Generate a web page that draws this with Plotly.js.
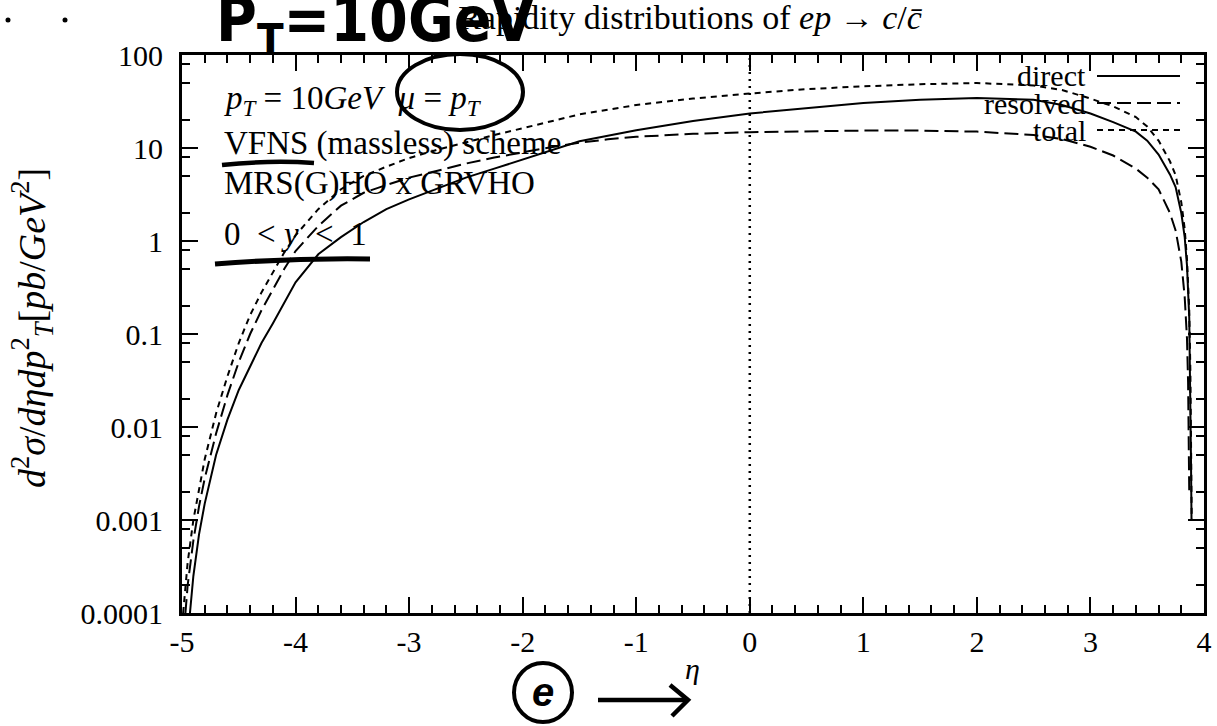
<!DOCTYPE html>
<html>
<head>
<meta charset="utf-8">
<script src="https://cdn.plot.ly/plotly-3.0.1.min.js"></script>
<style>
  html, body { margin: 0; padding: 0; background: #ffffff; }
  #chart { width: 1217px; height: 726px; }
</style>
</head>
<body>
<div id="chart"></div>
<script>
// Rapidity distributions d2sigma/deta dpT2 for ep -> c/cbar at pT = 10 GeV

// direct photon contribution
const etaDirect = [-4.93, -4.9, -4.85, -4.8, -4.7, -4.6, -4.5, -4.4, -4.3, -4.2, -4.1, -4.0,
  -3.8, -3.6, -3.4, -3.2, -3.0, -2.75, -2.5, -2.25, -2.0, -1.5, -1.0, -0.5, 0, 0.5, 1.0, 1.5,
  2.0, 2.5, 2.75, 3.0, 3.2, 3.4, 3.5, 3.6, 3.7, 3.75, 3.8, 3.83, 3.85, 3.87, 3.88, 3.885, 3.89];
const direct = [1e-4, 2.5e-4, 7e-4, 1.5e-3, 5e-3, 0.012, 0.025, 0.045, 0.08, 0.13, 0.22, 0.36,
  0.72, 1.1, 1.6, 2.2, 2.8, 3.7, 4.8, 6.0, 7.5, 11.8, 15.5, 19.5, 23.5, 27, 30.5, 33,
  34.5, 33, 29, 23.5, 19, 15, 12, 8.5, 5.2, 3.8, 2.0, 1.1, 0.55, 0.15, 0.03, 0.005, 0.001];

// resolved photon contribution
const etaResolved = [-4.97, -4.95, -4.9, -4.85, -4.8, -4.7, -4.6, -4.5, -4.4, -4.3, -4.2, -4.1, -4.0,
  -3.8, -3.6, -3.4, -3.2, -3.0, -2.75, -2.5, -2.25, -2.0, -1.75, -1.5, -1.25, -1.0, -0.5, 0, 0.5, 1.0, 1.5,
  2.0, 2.5, 2.75, 3.0, 3.2, 3.4, 3.5, 3.6, 3.7, 3.75, 3.8, 3.83, 3.85, 3.86, 3.865, 3.87];
const resolved = [1e-4, 2e-4, 6e-4, 1.4e-3, 2.8e-3, 8.5e-3, 0.022, 0.05, 0.1, 0.18, 0.3, 0.5, 0.78,
  1.45, 2.4, 3.3, 4.0, 4.8, 5.7, 6.8, 7.9, 9.0, 10.2, 11.4, 12.4, 13.2, 14.2, 14.8, 15.2, 15.4, 15.4,
  15, 13.8, 12.5, 10.3, 8.3, 6.0, 4.8, 3.6, 2.0, 1.3, 0.6, 0.25, 0.09, 0.03, 0.01, 0.002];

// sum of both
const etaTotal = [-4.99, -4.95, -4.9, -4.85, -4.8, -4.7, -4.6, -4.5, -4.4, -4.3, -4.2, -4.1, -4.0,
  -3.8, -3.6, -3.4, -3.2, -3.0, -2.75, -2.5, -2.25, -2.0, -1.5, -1.0, -0.5, 0, 0.5, 1.0, 1.5,
  2.0, 2.5, 2.75, 3.0, 3.2, 3.4, 3.5, 3.6, 3.7, 3.75, 3.8, 3.83, 3.85, 3.87, 3.88, 3.885, 3.892];
const total = [1e-4, 3.5e-4, 1e-3, 2.2e-3, 4.5e-3, 0.014, 0.035, 0.08, 0.16, 0.28, 0.45, 0.75, 1.15,
  2.2, 3.6, 5.0, 6.3, 7.8, 9.6, 11.6, 13.8, 16.3, 23, 29, 34, 38.5, 43, 46, 48.5,
  50, 47, 42, 34, 28, 21.5, 17, 12, 7.2, 5.1, 2.6, 1.35, 0.64, 0.18, 0.04, 0.008, 0.001];

// axis ticks
const xTickVals = [-5, -4, -3, -2, -1, 0, 1, 2, 3, 4];
const xTickText = ['-5', '-4', '-3', '-2', '-1', '0', '1', '2', '3', '4'];
const yTickVals = [1e-4, 1e-3, 1e-2, 1e-1, 1, 10, 100];
const yTickText = ['0.0001', '0.001', '0.01', '0.1', '1', '10', '100'];
const yMinorMantissas = [2, 5, 8];

const yMinorVals = [];
yTickVals.slice(0, -1).forEach(d => yMinorMantissas.forEach(m => yMinorVals.push(m * d)));

// page geometry (pixels) and helpers to place overlays in paper units
const PAGE_W = 1217, PAGE_H = 726;
const L = 182, R = 1204, T = 55, B = 613;
const fx = px => (px - L) / (R - L);
const fy = py => (B - py) / (B - T);

const SERIF = 'Liberation Serif, Times New Roman, serif';
const INK = '#000000';
const DASH_RESOLVED = '14px,6px';
const DASH_TOTAL = '6px,5px';

const curve = (x, y, dash) => ({
  x: x, y: y, type: 'scatter', mode: 'lines',
  line: { color: INK, width: 2, dash: dash },
  showlegend: false, hoverinfo: 'skip'
});

const traces = [
  curve(etaDirect, direct, 'solid'),
  curve(etaResolved, resolved, DASH_RESOLVED),
  curve(etaTotal, total, DASH_TOTAL)
];

const axisCommon = {
  ticks: 'inside', ticklen: 16, tickwidth: 2, tickcolor: INK,
  showline: true, linewidth: 3, linecolor: INK, mirror: 'allticks',
  showgrid: false, zeroline: false, automargin: false, fixedrange: true,
  tickfont: { family: SERIF, size: 30, color: INK }
};

const layout = {
  width: PAGE_W, height: PAGE_H,
  margin: { l: L, r: PAGE_W - R, t: T, b: PAGE_H - B, pad: 0 },
  paper_bgcolor: '#ffffff', plot_bgcolor: '#ffffff',
  font: { family: SERIF, size: 30, color: INK },
  showlegend: false,
  title: {
    text: 'Rapidity distributions of <i>ep</i> \u2192 <i>c</i>/<i>c\u0304</i>',
    font: { family: SERIF, size: 34, color: INK },
    xref: 'paper', x: fx(690), xanchor: 'center',
    yref: 'container', y: 1 - 17 / PAGE_H, yanchor: 'middle'
  },
  xaxis: Object.assign({}, axisCommon, {
    range: [-5, 4], tickmode: 'array', tickvals: xTickVals, ticktext: xTickText,
    ticklabelstandoff: 0,
    minor: { dtick: 0.2, tick0: -5, ticks: 'inside', ticklen: 8, tickwidth: 2, tickcolor: INK, showgrid: false }
  }),
  yaxis: Object.assign({}, axisCommon, {
    type: 'log', range: [-4, 2], tickmode: 'array', tickvals: yTickVals, ticktext: yTickText,
    ticklabelstandoff: 10,
    minor: { tickmode: 'array', tickvals: yMinorVals, ticks: 'inside', ticklen: 8, tickwidth: 2, tickcolor: INK, showgrid: false }
  }),
  shapes: [],
  annotations: []
};

// vertical dotted reference line at eta = 0
layout.shapes.push({
  type: 'line', xref: 'x', yref: 'paper', x0: 0, x1: 0, y0: 0, y1: 1,
  line: { color: INK, width: 2.5, dash: '2px,5px' }, layer: 'above'
});

// key: label text on the left, line sample on the right
const keyRows = [
  { label: 'direct', dash: 'solid', y: 76 },
  { label: 'resolved', dash: DASH_RESOLVED, y: 103 },
  { label: 'total', dash: DASH_TOTAL, y: 130 }
];
keyRows.forEach(k => {
  layout.annotations.push({
    xref: 'paper', yref: 'paper', x: fx(1088), y: fy(k.y), xanchor: 'right', yanchor: 'middle',
    text: k.label, showarrow: false, font: { family: SERIF, size: 30, color: INK }
  });
  layout.shapes.push({
    type: 'line', xref: 'paper', yref: 'paper', x0: fx(1097), x1: fx(1180), y0: fy(k.y), y1: fy(k.y),
    line: { color: INK, width: 2, dash: k.dash }
  });
});

// parameter block in the upper left
const infoLines = [
  { text: '<i>p<sub>T</sub></i> = 10<i>GeV</i>\u00a0\u00a0<i>\u03bc</i> = <i>p<sub>T</sub></i>', y: 100 },
  { text: 'VFNS (massless) scheme', y: 143 },
  { text: 'MRS(G)HO x GRVHO', y: 183 },
  { text: '0 \u00a0&lt; <i>y</i> \u00a0&lt; \u00a01', y: 234 }
];
infoLines.forEach(l => layout.annotations.push({
  xref: 'paper', yref: 'paper', x: fx(222), y: fy(l.y), xanchor: 'left', yanchor: 'middle',
  text: l.text, showarrow: false, font: { family: SERIF, size: 33, color: INK }
}));

// axis labels
layout.annotations.push({
  xref: 'paper', yref: 'paper', x: fx(32), y: fy(328), xanchor: 'center', yanchor: 'middle',
  textangle: -90, showarrow: false,
  text: '<i>d</i><sup>2</sup><i>\u03c3</i>/<i>d\u03b7dp</i><sup>2</sup><sub><i>T</i></sub>[<i>pb</i>/<i>GeV</i><sup>2</sup>]',
  font: { family: SERIF, size: 38, color: INK }
});
layout.annotations.push({
  xref: 'paper', yref: 'paper', x: fx(692), y: fy(668), xanchor: 'center', yanchor: 'middle',
  text: '<i>\u03b7</i>', showarrow: false, font: { family: SERIF, size: 30, color: INK }
});

// pen marks written over the printed figure
const PEN = { family: 'Liberation Sans Narrow, DejaVu Sans Condensed, Liberation Sans, sans-serif', size: 62, color: INK, weight: 'bold' };
layout.annotations.push({
  xref: 'paper', yref: 'paper', x: fx(214), y: fy(24), xanchor: 'left', yanchor: 'middle',
  text: 'P<sub>T</sub>=10GeV', showarrow: false, font: PEN
});
layout.annotations.push({
  xref: 'paper', yref: 'paper', x: fx(543), y: fy(692), xanchor: 'center', yanchor: 'middle',
  text: '<i>e</i>', showarrow: false,
  font: { family: 'Liberation Sans, sans-serif', size: 40, color: INK, weight: 'bold' }
});
const pen = (path, width) => ({
  type: 'path', xref: 'paper', yref: 'paper', path: path,
  line: { color: INK, width: width }, layer: 'above'
});
const P = (x, y) => fx(x).toFixed(5) + ',' + fy(y).toFixed(5);
// ring around mu = pT
layout.shapes.push({
  type: 'circle', xref: 'paper', yref: 'paper',
  x0: fx(397), x1: fx(523), y0: fy(130), y1: fy(54),
  line: { color: INK, width: 4 }, layer: 'above'
});
// underlines
layout.shapes.push(pen('M' + P(222, 165) + ' Q' + P(270, 160) + ' ' + P(314, 163), 4.5));
layout.shapes.push(pen('M' + P(215, 264) + ' Q' + P(290, 258) + ' ' + P(370, 259), 5));
// ring around the e and the arrow
layout.shapes.push({
  type: 'circle', xref: 'paper', yref: 'paper',
  x0: fx(514), x1: fx(572), y0: fy(722), y1: fy(663),
  line: { color: INK, width: 4 }, layer: 'above'
});
layout.shapes.push(pen('M' + P(598, 700) + ' L' + P(686, 700), 4.5));
layout.shapes.push(pen('M' + P(670, 685) + ' L' + P(688, 700) + ' L' + P(672, 716), 4.5));
// two specks in the top-left corner
[[8, 20], [65, 20]].forEach(([cx, cy]) => layout.shapes.push({
  type: 'circle', xref: 'paper', yref: 'paper',
  x0: fx(cx - 2.5), x1: fx(cx + 2.5), y0: fy(cy + 2.5), y1: fy(cy - 2.5),
  fillcolor: INK, line: { color: INK, width: 0 }
}));

Plotly.newPlot('chart', traces, layout, { staticPlot: true, displayModeBar: false });
</script>
</body>
</html>
